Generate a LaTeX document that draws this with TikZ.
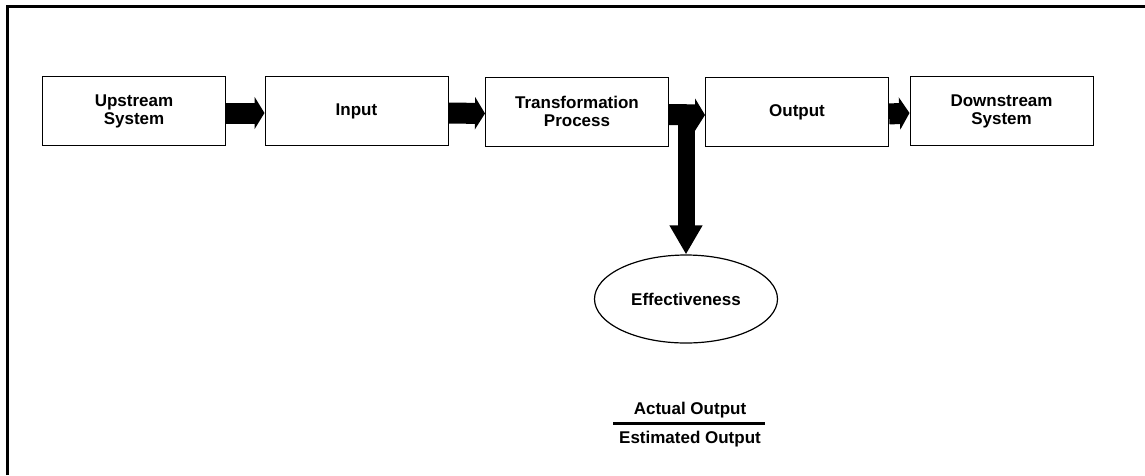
\documentclass[tikz,border=0pt]{standalone}
\usepackage{fontspec}
\setmainfont{Liberation Sans}
\usetikzlibrary{shapes.geometric,arrows.meta,calc}

\tikzset{
  label font/.style={font=\bfseries\fontsize{17}{18}\selectfont},
  stage/.style={draw, line width=1pt, minimum width=183pt, minimum height=69pt,
    align=center, label font, inner sep=0pt},
  flow/.style={line width=21pt, -{Triangle[length=10pt,width=32pt]}},
  branch/.style={line width=17pt, -{Triangle[length=29pt,width=31pt]}},
  measure/.style={draw, ellipse, line width=1.2pt, minimum width=183pt, minimum height=88pt,
    label font, inner sep=0pt},
  ratio/.style={label font, inner sep=0pt},
  frame/.style={line width=3pt}
}

\begin{document}
\begin{tikzpicture}[x=1pt,y=-1pt]
  \useasboundingbox (0,0) rectangle (1145,475);

  % outer frame (left and top edges)
  \draw[frame] (7.5,475) -- (7.5,6.5) -- (1145,6.5);

  % stages of the system chain
  \node[stage] (up)   at (134,111)    {Upstream\\System};
  \node[stage] (in)   at (356.5,111)  {Input};
  \node[stage] (tr)   at (577,111.5)  {Transformation\\Process};
  \node[stage] (out)  at (797,112)    {Output};
  \node[stage] (down) at (1001.5,111) {Downstream\\System};

  % effectiveness measure
  \node[measure] (eff) at (686,299) {Effectiveness};

  % flow arrows between stages
  \draw[flow] ([yshift=-2pt]up.east)  -- ([yshift=-2pt]in.west);
  \draw[flow] ([yshift=-2pt]in.east)  -- ([yshift=-2pt]tr.west);
  \draw[flow] ([yshift=-3pt]tr.east)  -- ([yshift=-3pt]out.west);
  \draw[flow] ([yshift=-2pt]out.east) -- ([yshift=-2pt]down.west);

  % branch from the transformation output down to the measure
  \coordinate (fork) at (eff.north |- tr.east);
  \draw[branch] ([yshift=5pt]fork) -- (eff.north);

  % ratio defining effectiveness
  \node[ratio] (num) at (690,410) {Actual Output};
  \node[ratio] (den) at (690,439) {Estimated Output};
  \coordinate (barl) at (613,423.5);
  \coordinate (barr) at (765,423.5);
  \draw[line width=2.6pt] (barl) -- (barr);
\end{tikzpicture}
\end{document}
